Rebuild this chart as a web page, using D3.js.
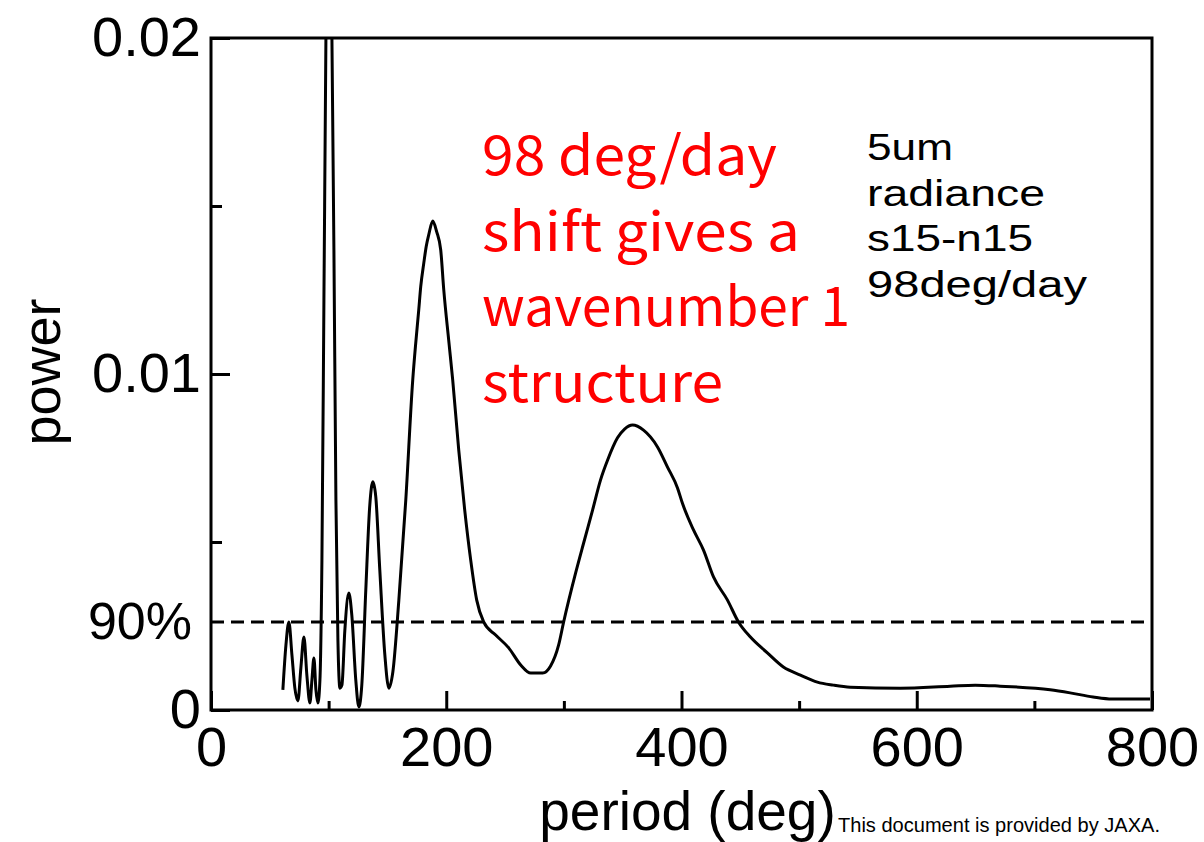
<!DOCTYPE html>
<html><head><meta charset="utf-8">
<script src="https://cdn.jsdelivr.net/npm/d3@7"></script>
<style>body{margin:0;background:#fff}</style>
</head><body><svg id="c" width="1204" height="842"></svg>
<script>
// ---- data ----
const period = [61.1,63.7,66.2,68.8,71.3,73.9,76.4,79.0,81.5,84.1,85.8,87.5,89.2,90.9,92.6,94.3,96.0,97.7,100.2,102.8,104.5,106.2,107.9,109.6,111.3,113.8,117.2,119.7,123.1,125.7,128.2,131.6,135.0,137.6,140.1,143.5,147.8,151.2,154.6,159.7,165.6,171.5,174.0,176.6,178.3,180.9,183.0,185.1,188.5,191.9,195.3,197.9,202.1,205.5,210.6,215.7,220.8,225.9,231.8,242.0,253.1,263.3,271.8,282.0,288.7,295.5,299.8,310.0,316.8,324.4,331.2,337.2,345.6,351.6,358.4,367.7,379.6,388.1,396.6,400.8,410.2,418.7,427.2,439.1,448.4,458.6,473.0,486.6,501.1,515.5,529.1,543.5,586.0,628.5,649.7,670.9,713.4,730.4,749.9,766.0,798.3];
const power = [0.00060,0.00193,0.00262,0.00164,0.00065,0.00027,0.00125,0.00217,0.00104,0.00021,0.00089,0.00155,0.00060,0.00021,0.00089,0.00446,0.0122,0.0200,0.0301,0.0200,0.0137,0.00625,0.00208,0.00065,0.00074,0.00238,0.00348,0.00283,0.00089,0.00009,0.00074,0.00357,0.00610,0.00679,0.00634,0.00417,0.00164,0.00065,0.00113,0.00327,0.00625,0.00982,0.0109,0.0119,0.0126,0.0133,0.0138,0.01414,0.01455,0.01423,0.01369,0.0125,0.0110,0.00982,0.00774,0.00595,0.00446,0.00327,0.00262,0.00223,0.00185,0.00134,0.00110,0.00110,0.00131,0.00193,0.00262,0.00408,0.00497,0.00595,0.00685,0.00744,0.00810,0.00836,0.00848,0.00833,0.00783,0.00723,0.00661,0.00615,0.00536,0.00476,0.00396,0.00327,0.00262,0.00217,0.00170,0.00128,0.00104,0.00083,0.00074,0.00068,0.00065,0.00071,0.00074,0.00071,0.00060,0.00051,0.00039,0.00033,0.00033];
const xMajorTicks = [0,200,400,600,800];
const xMinorTicks = [100,300,500,700];
const yMajorTicks = [0,0.01,0.02];
const yTickLabels = ["0","0.01","0.02"];
const yMinorTicks = [0.005,0.015];
const sigLevel = 0.00262;
const sigLabel = "90%";
const redNote = ["98 deg/day","shift gives a","wavenumber 1","structure"];
const blackNote = ["5um","radiance","s15-n15","98deg/day"];
const xTitle = "period (deg)";
const yTitle = "power";
const credit = "This document is provided by JAXA.";

// ---- layout ----
const svg = d3.select("#c");
svg.append("rect").attr("width",1204).attr("height",842).attr("fill","#fff");
const L=211,R=1152,T=38,B=710;
const x = d3.scaleLinear().domain([0,800]).range([L,R]);
const y = d3.scaleLinear().domain([0,0.02]).range([B,T]);
const latin = "'Liberation Sans', Arial, sans-serif";

svg.append("defs").append("clipPath").attr("id","clip")
  .append("rect").attr("x",L).attr("y",T).attr("width",R-L).attr("height",B-T);

// x axis
const gx = svg.append("g").attr("transform",`translate(0,${B})`)
  .call(d3.axisBottom(x).tickValues(xMajorTicks).tickSizeInner(-19).tickSizeOuter(0).tickPadding(16).tickFormat(d3.format("d")));
gx.select(".domain").remove();
gx.selectAll("line").attr("stroke","#000").attr("stroke-width",3);
gx.selectAll("text").attr("font-family",latin).attr("font-size",56).attr("fill","#000");
const gx2 = svg.append("g").attr("transform",`translate(0,${B})`)
  .call(d3.axisBottom(x).tickValues(xMinorTicks).tickSizeInner(-9).tickSizeOuter(0).tickFormat(""));
gx2.select(".domain").remove();
gx2.selectAll("line").attr("stroke","#000").attr("stroke-width",3);

// y axis
const gy = svg.append("g").attr("transform",`translate(${L},0)`)
  .call(d3.axisLeft(y).tickValues(yMajorTicks).tickSizeInner(-19).tickSizeOuter(0).tickPadding(10)
    .tickFormat((d,i)=>yTickLabels[i]));
gy.select(".domain").remove();
gy.selectAll("line").attr("stroke","#000").attr("stroke-width",3);
gy.selectAll("text").attr("font-family",latin).attr("font-size",56).attr("fill","#000");
const gy2 = svg.append("g").attr("transform",`translate(${L},0)`)
  .call(d3.axisLeft(y).tickValues(yMinorTicks).tickSizeInner(-11).tickSizeOuter(0).tickFormat(""));
gy2.select(".domain").remove();
gy2.selectAll("line").attr("stroke","#000").attr("stroke-width",3);

// 90% line
svg.append("line").attr("x1",L).attr("x2",R).attr("y1",y(sigLevel)).attr("y2",y(sigLevel))
  .attr("stroke","#000").attr("stroke-width",3).attr("stroke-dasharray","13,7");
svg.append("text").attr("x",L-19).attr("y",y(sigLevel)).attr("dy","0.32em")
  .attr("text-anchor","end").attr("font-family",latin).attr("font-size",52).text(sigLabel);

// curve
const pts = period.map((p,i)=>[p,power[i]]);
svg.append("path").datum(pts).attr("clip-path","url(#clip)")
  .attr("fill","none").attr("stroke","#000").attr("stroke-width",3).attr("stroke-linejoin","round")
  .attr("d", d3.line().x(d=>x(d[0])).y(d=>y(d[1])).curve(d3.curveMonotoneX));

// frame
svg.append("rect").attr("x",L).attr("y",T).attr("width",R-L).attr("height",B-T)
  .attr("fill","none").attr("stroke","#000").attr("stroke-width",3);

// titles
svg.append("text").attr("x",(540+835)/2).attr("y",830).attr("text-anchor","middle")
  .attr("font-family",latin).attr("font-size",55).text(xTitle);
svg.append("text").attr("transform","translate(60,372) rotate(-90)").attr("text-anchor","middle")
  .attr("font-family",latin).attr("font-size",54).text(yTitle);
svg.append("text").attr("x",838).attr("y",832).attr("font-family",latin).attr("font-size",20)
  .attr("textLength",322).attr("lengthAdjust","spacingAndGlyphs").text(credit);

// annotations
const redW=[295,318,368,241];
svg.append("g").selectAll("text").data(redNote).join("text")
  .attr("x",482).attr("y",(d,i)=>175+i*75.5)
  .attr("font-family","'Noto Sans CJK JP', sans-serif").attr("font-size",54).attr("fill","#ff0000")
  .attr("textLength",(d,i)=>redW[i]).attr("lengthAdjust","spacingAndGlyphs").text(d=>d);
const blackW=[86,178,166,220];
svg.append("g").selectAll("text").data(blackNote).join("text")
  .attr("x",867).attr("y",(d,i)=>160+i*45.5)
  .attr("font-family",latin).attr("font-size",37).attr("fill","#000")
  .attr("textLength",(d,i)=>blackW[i]).attr("lengthAdjust","spacingAndGlyphs").text(d=>d);
</script></body></html>
